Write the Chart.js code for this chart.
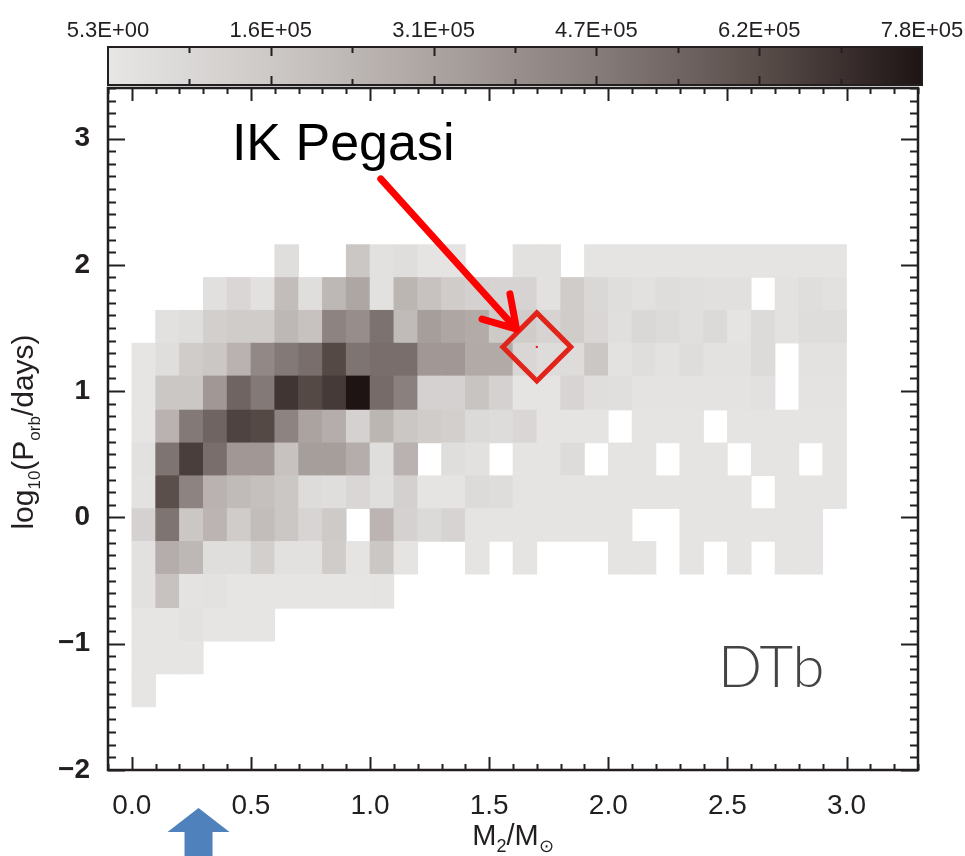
<!DOCTYPE html>
<html>
<head>
<meta charset="utf-8">
<script src="https://cdn.jsdelivr.net/npm/chart.js@4.4.1/dist/chart.umd.min.js"></script>
<style>
  html, body { margin: 0; padding: 0; background: #fff; }
</style>
</head>
<body>
<canvas id="chartDTb" width="965" height="856"></canvas>
<script>
// ── Data ────────────────────────────────────────────────────────────────
// bin edges of the 2-D histogram
const massEdges = [0.0, 0.1, 0.2, 0.3, 0.4, 0.5, 0.6, 0.7, 0.8, 0.9, 1.0,
                   1.1, 1.2, 1.3, 1.4, 1.5, 1.6, 1.7, 1.8, 1.9, 2.0,
                   2.1, 2.2, 2.3, 2.4, 2.5, 2.6, 2.7, 2.8, 2.9, 3.0];
const logPEdges = [-1.50, -1.24, -0.98, -0.72, -0.45, -0.19, 0.07, 0.33,
                   0.59, 0.85, 1.12, 1.38, 1.64, 1.90, 2.16];

// systems per cell, in thousands, bottom row (logP -1.5) first; 0 = empty
const counts = [
  [  3,  0,  0,  0,  0,  0,  0,  0,  0,  0,  0,  0,  0,  0,  0,  0,  0,  0,  0,  0,  0,  0,  0,  0,  0,  0,  0,  0,  0,  0],
  [  3,  3,  3,  0,  0,  0,  0,  0,  0,  0,  0,  0,  0,  0,  0,  0,  0,  0,  0,  0,  0,  0,  0,  0,  0,  0,  0,  0,  0,  0],
  [  3,  3, 22,  3,  3,  3,  0,  0,  0,  0,  0,  0,  0,  0,  0,  0,  0,  0,  0,  0,  0,  0,  0,  0,  0,  0,  0,  0,  0,  0],
  [ 28,186, 17, 22,  5,  5,  5,  5,  5,  5, 11,  0,  0,  0,  0,  0,  0,  0,  0,  0,  0,  0,  0,  0,  0,  0,  0,  0,  0,  0],
  [ 28,273,230, 45, 45,123, 28, 28,139, 11,165, 11,  0,  0, 11,  0, 11,  0,  0,  0, 11, 11,  0, 11,  0, 11,  0, 11, 11,  0],
  [111,496,165,243,139,208,165, 95,150,  0,243,111, 67,100, 11, 11, 11, 11, 11, 11, 11,  0,  0, 11, 11, 11, 11, 11, 11,  0],
  [ 22,620,439,251,217,195,165, 56, 45, 84, 39,117, 11, 11, 61, 50, 11, 11, 11, 11, 11, 11, 11, 11, 11, 11,  0, 11, 11, 11],
  [ 28,496,666,514,357,357,186,337,337,273, 45,251,  0, 45, 28,  0, 11, 11, 56,  0, 11, 11,  0, 11, 11,  0, 11, 11,  0, 11],
  [  3,251,479,550,653,638,439,316,273,111,238,165,139,123, 67, 56, 84, 11, 11, 11,  0, 11, 11, 11,  0, 11, 11, 11, 11, 11],
  [  3,165,165,357,550,479,692,638,679,780,525,452,111,111,178,111, 11, 11, 95, 45, 39, 17, 17, 17, 17, 17, 28,  0, 17, 17],
  [  3, 45,139,165,251,419,479,514,638,496,514,514,357,357,286,286, 84, 56, 56,165, 22, 45, 22, 50, 22, 22, 61,  0, 22, 22],
  [  0, 28, 45,123,139,139,230,186,439,398,503,217,337,303,282,150,139,100,139, 84, 39, 78, 61, 39, 67, 11, 61, 22, 50, 50],
  [  0,  0,  0, 33, 84, 28,208, 45,230,303, 28,238,186,139,111,100,100, 28,139, 78, 45, 28, 50, 39, 33, 33,  0, 22, 45, 28],
  [  0,  0,  0,  0,  0,  0, 45,  0,  0,165, 28, 45, 11, 11,  0,  0, 28, 28,  0, 11, 11, 11, 11, 11, 11, 11, 11, 11, 11, 11]
];

const xTicks = [0.0, 0.5, 1.0, 1.5, 2.0, 2.5, 3.0];
const yTicks = [-2, -1, 0, 1, 2, 3];
const barTickLabels = ['5.3E+00', '1.6E+05', '3.1E+05', '4.7E+05', '6.2E+05', '7.8E+05'];
const countMin = 5.3;
const countMax = 7.8e5;

// IK Pegasi position (M2/Msun, log10 Porb)
const ikPeg = [1.70, 1.35];

// ── Colour map (light grey -> near black, slightly warm) ────────────────
const cmapStops = [
  [0.0, 231, 230, 229],
  [0.2, 205, 201, 199],
  [0.4, 172, 164, 161],
  [0.6, 134, 124, 121],
  [0.8,  90,  78,  75],
  [1.0,  30,  20,  20]
];
function cmap(t) {
  t = Math.max(0, Math.min(1, t));
  for (let i = 1; i < cmapStops.length; i++) {
    const a = cmapStops[i - 1], b = cmapStops[i];
    if (t <= b[0]) {
      const f = (t - a[0]) / (b[0] - a[0]);
      const c = [1, 2, 3].map(k => Math.round(a[k] + (b[k] - a[k]) * f));
      return 'rgb(' + c.join(',') + ')';
    }
  }
  return 'rgb(30,20,20)';
}

const INK = '#231f20';
const FONT = '"Liberation Sans", Arial, sans-serif';

// ── Cells: one floating-bar dataset per logP row ────────────────────────
const cellSets = counts.map((row, r) => {
  const data = [];
  const colors = [];
  row.forEach((k, c) => {
    if (!k) return;
    const xc = Math.round((massEdges[c] + massEdges[c + 1]) * 500) / 1000;
    data.push({ x: xc, y: [logPEdges[r], logPEdges[r + 1]] });
    colors.push(cmap((k * 1000 - countMin) / (countMax - countMin)));
  });
  return {
    type: 'bar',
    label: 'logP row ' + r,
    data: data,
    backgroundColor: colors,
    borderWidth: 0,
    grouped: false,
    barPercentage: 1,
    categoryPercentage: 1,
    order: 2
  };
});

// ── Plugins: frame + ticks, colour bar, annotations ─────────────────────
const framePlugin = {
  id: 'frame',
  afterDatasetsDraw(chart) {
    const { ctx, chartArea: a, scales: { x, y } } = chart;
    ctx.save();
    ctx.strokeStyle = INK;
    ctx.lineWidth = 2;
    ctx.beginPath();
    for (let i = -1; i <= 33; i++) {
      const v = i / 10;
      const px = Math.round(x.getPixelForValue(v)) + 0.5;
      const len = (i % 5 === 0) ? 13 : 6;
      ctx.moveTo(px, a.bottom); ctx.lineTo(px, a.bottom - len);
      ctx.moveTo(px, a.top);    ctx.lineTo(px, a.top + len);
    }
    for (let i = -20; i <= 34; i++) {
      const v = i / 10;
      const py = Math.round(y.getPixelForValue(v)) + 0.5;
      const len = (i % 10 === 0) ? 17 : 8;
      ctx.moveTo(a.left, py);  ctx.lineTo(a.left + len, py);
      ctx.moveTo(a.right, py); ctx.lineTo(a.right - len, py);
    }
    ctx.stroke();
    ctx.lineWidth = 2.5;
    ctx.strokeRect(a.left, a.top, a.right - a.left, a.bottom - a.top);
    ctx.restore();
  }
};

function drawParts(ctx, parts, x, y, size, subSize, subDrop) {
  // parts: [text, isSub]; x = centre
  const widths = parts.map(p => {
    ctx.font = (p[1] ? subSize : size) + 'px ' + FONT;
    return ctx.measureText(p[0]).width;
  });
  let cx = x - widths.reduce((s, w) => s + w, 0) / 2;
  parts.forEach((p, i) => {
    ctx.font = (p[1] ? subSize : size) + 'px ' + FONT;
    ctx.fillText(p[0], cx, y + (p[1] ? subDrop : 0));
    cx += widths[i];
  });
}

const decorPlugin = {
  id: 'decor',
  afterDraw(chart) {
    const { ctx, chartArea: a, scales: { x, y } } = chart;
    ctx.save();

    // colour bar
    const bTop = 47, bBot = 85, bL = a.left, bR = a.right + 4;
    const grad = ctx.createLinearGradient(bL, 0, bR, 0);
    cmapStops.forEach(s => grad.addColorStop(s[0], cmap(s[0])));
    ctx.fillStyle = grad;
    ctx.fillRect(bL, bTop, bR - bL, bBot - bTop);
    ctx.strokeStyle = INK;
    ctx.lineWidth = 2;
    ctx.strokeRect(bL, bTop, bR - bL, bBot - bTop);
    ctx.beginPath();
    for (let i = 1; i < 10; i++) {
      const px = Math.round(bL + (bR - bL) * i / 10) + 0.5;
      const len = i % 2 === 0 ? 9 : 6;
      ctx.moveTo(px, bTop); ctx.lineTo(px, bTop + len);
      ctx.moveTo(px, bBot); ctx.lineTo(px, bBot - len);
    }
    ctx.stroke();
    ctx.fillStyle = INK;
    ctx.font = '22px ' + FONT;
    ctx.textAlign = 'center';
    ctx.textBaseline = 'alphabetic';
    barTickLabels.forEach((lab, i) => {
      ctx.fillText(lab, bL + (bR - bL) * i / (barTickLabels.length - 1), 37);
    });

    // axis titles
    ctx.textAlign = 'left';
    drawParts(ctx, [['M', 0], ['2', 1], ['/M', 0], ['\u2299', 1]],
              (a.left + a.right) / 2, 845, 29, 18, 7);
    ctx.save();
    ctx.translate(33, 432);
    ctx.rotate(-Math.PI / 2);
    drawParts(ctx, [['log', 0], ['10', 1], ['(P', 0], ['orb', 1], ['/days)', 0]],
              0, 0, 30, 17, 7);
    ctx.restore();

    // DTb label
    ctx.fillStyle = '#444';
    ctx.font = '300 58px Lato, "Open Sans", ' + FONT;
    ctx.fillText('DTb', x.getPixelForValue(2.46), y.getPixelForValue(-1.34));

    // IK Pegasi label + arrow
    ctx.fillStyle = '#000';
    ctx.font = '52px ' + FONT;
    ctx.fillText('IK Pegasi', x.getPixelForValue(0.42), y.getPixelForValue(2.83));

    const x0 = x.getPixelForValue(1.045), y0 = y.getPixelForValue(2.68);
    const x1 = x.getPixelForValue(1.615), y1 = y.getPixelForValue(1.49);
    const ang = Math.atan2(y1 - y0, x1 - x0);
    ctx.strokeStyle = '#ff0000';
    ctx.lineWidth = 7;
    ctx.lineCap = 'round';
    ctx.lineJoin = 'round';
    ctx.beginPath();
    ctx.moveTo(x0, y0); ctx.lineTo(x1, y1);
    ctx.moveTo(x1 - 36 * Math.cos(ang - 0.55), y1 - 36 * Math.sin(ang - 0.55));
    ctx.lineTo(x1, y1);
    ctx.lineTo(x1 - 36 * Math.cos(ang + 0.55), y1 - 36 * Math.sin(ang + 0.55));
    ctx.stroke();

    // blue arrow under the x axis
    const bx = x.getPixelForValue(0.28);
    ctx.fillStyle = '#4f81bd';
    ctx.beginPath();
    ctx.moveTo(bx, a.bottom + 38);
    ctx.lineTo(bx + 31, a.bottom + 62);
    ctx.lineTo(bx + 14, a.bottom + 62);
    ctx.lineTo(bx + 14, a.bottom + 90);
    ctx.lineTo(bx - 14, a.bottom + 90);
    ctx.lineTo(bx - 14, a.bottom + 62);
    ctx.lineTo(bx - 31, a.bottom + 62);
    ctx.closePath();
    ctx.fill();

    ctx.restore();
  }
};

// ── Chart ───────────────────────────────────────────────────────────────
new Chart(document.getElementById('chartDTb'), {
  type: 'bar',
  data: {
    datasets: [
      {
        type: 'scatter',
        label: 'IK Pegasi',
        data: [{ x: ikPeg[0], y: ikPeg[1] }],
        pointStyle: 'rectRot',
        pointRadius: 34,
        borderColor: '#e2231a',
        borderWidth: 5,
        backgroundColor: 'rgba(0,0,0,0)',
        order: 0
      },
      {
        type: 'scatter',
        label: 'IK Pegasi centre',
        data: [{ x: ikPeg[0], y: ikPeg[1] }],
        pointStyle: 'circle',
        pointRadius: 1.2,
        borderWidth: 0,
        backgroundColor: '#e2231a',
        order: 1
      },
      ...cellSets
    ]
  },
  options: {
    responsive: false,
    animation: false,
    devicePixelRatio: 1,
    layout: { padding: { top: 88, right: 47, bottom: 0, left: 0 } },
    plugins: {
      legend: { display: false },
      tooltip: { enabled: false },
      title: { display: false }
    },
    scales: {
      x: {
        type: 'linear',
        min: -0.1,
        max: 3.3,
        offset: false,
        grid: { display: false },
        border: { display: false },
        afterBuildTicks: s => { s.ticks = xTicks.map(v => ({ value: v })); },
        afterFit: s => { s.height = 86; },
        ticks: {
          autoSkip: false,
          maxRotation: 0,
          padding: 11,
          color: INK,
          font: { family: FONT, size: 28 },
          callback: v => Number(v).toFixed(1)
        }
      },
      y: {
        type: 'linear',
        min: -2,
        max: 3.4,
        grid: { display: false },
        border: { display: false },
        afterBuildTicks: s => { s.ticks = yTicks.map(v => ({ value: v })); },
        afterFit: s => { s.width = 108; },
        ticks: {
          autoSkip: false,
          padding: 10,
          color: INK,
          font: { family: FONT, size: 28, weight: 'bold' },
          callback: v => (v < 0 ? '\u2212' + Math.abs(v) : String(v))
        }
      }
    }
  },
  plugins: [framePlugin, decorPlugin]
});
</script>
</body>
</html>
